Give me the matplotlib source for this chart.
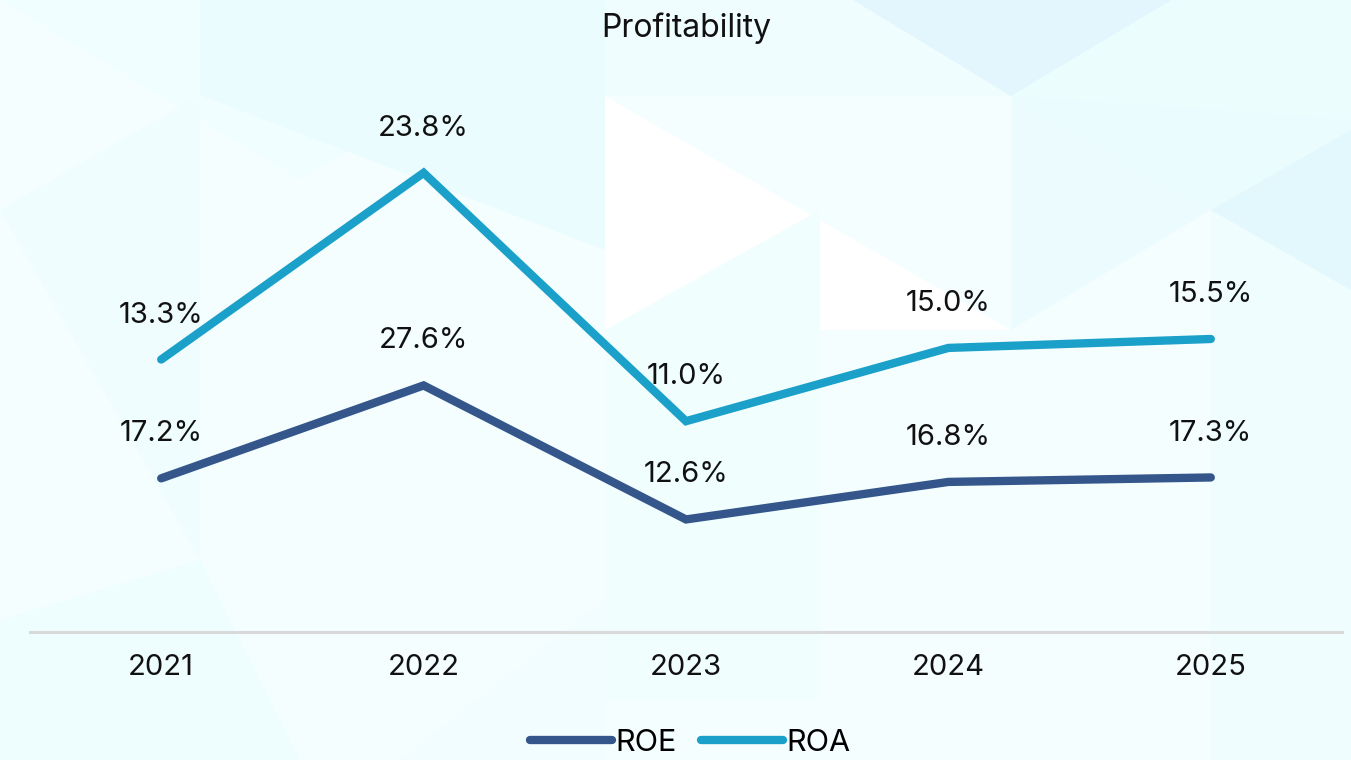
import matplotlib.pyplot as plt
from matplotlib.patches import Polygon
import numpy as np

plt.rcParams['font.family'] = ['Inter', 'DejaVu Sans']

years = ['2021', '2022', '2023', '2024', '2025']
roe = [17.2, 27.6, 12.6, 16.8, 17.3]
roa = [13.3, 23.8, 11.0, 15.0, 15.5]

roe_color = '#34568b'
roa_color = '#1ba1c9'

W, H = 1351, 760
fig = plt.figure(figsize=(W / 100, H / 100), dpi=100)
fig.patch.set_facecolor('#f4feff')

# faint triangle pattern in the background, pixel coords (y down)
bg = fig.add_axes([0, 0, 1, 1], zorder=0)
bg.set_xlim(0, W)
bg.set_ylim(H, 0)
bg.axis('off')
tris = [
    ([(0, 0), (600, 0), (300, 180)], '#f1feff'),
    ([(200, 0), (605, 0), (605, 250), (200, 95)], '#ebfcfe'),
    ([(605, 0), (853, 0), (1011, 96), (605, 96)], '#f0fdfe'),
    ([(853, 0), (1172, 0), (1011, 96)], '#e3f5fd'),
    ([(1172, 0), (1351, 0), (1351, 120), (1011, 96)], '#ecfdfe'),
    ([(1011, 96), (1351, 120), (1351, 300), (1211, 210)], '#eafcfe'),
    ([(1011, 96), (1211, 210), (1011, 330)], '#ecfcfe'),
    ([(1211, 210), (1351, 130), (1351, 300)], '#e3f8fd'),
    ([(0, 210), (200, 95), (200, 560)], '#effdfe'),
    ([(605, 96), (1011, 330), (605, 330)], '#ffffff'),
    ([(605, 330), (820, 210), (820, 700), (605, 700)], '#f1fefe'),
    ([(1211, 210), (1351, 290), (1351, 760), (1211, 760)], '#effdfe'),
    ([(0, 620), (200, 560), (300, 760), (0, 760)], '#eefdfe'),
    ([(400, 760), (605, 600), (605, 760)], '#f1fdfe'),
]
for pts, c in tris:
    bg.add_patch(Polygon(pts, closed=True, facecolor=c, edgecolor='none'))

ax = fig.add_axes([30 / W, 1 - 632 / H, (1342 - 30) / W, 536 / H], zorder=2)
ax.set_facecolor('none')

x = np.arange(len(years))
roe_arr = np.array(roe)
roa_stack = roe_arr + np.array(roa)

ax.plot(x, roe_arr, color=roe_color, linewidth=6, solid_capstyle='round',
        solid_joinstyle='miter', label='ROE', zorder=3)
ax.plot(x, roa_stack, color=roa_color, linewidth=6, solid_capstyle='round',
        solid_joinstyle='miter', label='ROA', zorder=3)

for i in range(len(years)):
    ax.annotate(f'{roe[i]:.1f}%', (x[i], roe_arr[i]), xytext=(0, 32),
                textcoords='offset points', ha='center', va='center',
                fontsize=21, color='#111111')
    ax.annotate(f'{roa[i]:.1f}%', (x[i], roa_stack[i]), xytext=(0, 32),
                textcoords='offset points', ha='center', va='center',
                fontsize=21, color='#111111')

ax.set_xlim(-0.5, len(years) - 0.5)
ax.set_ylim(0, 60)
ax.set_xticks(x)
ax.set_xticklabels(years, fontsize=21, color='#111111')
ax.tick_params(axis='x', length=0, pad=16)
ax.set_yticks([])
for s in ['top', 'right', 'left']:
    ax.spines[s].set_visible(False)
ax.spines['bottom'].set_color('#d9d9d9')
ax.spines['bottom'].set_linewidth(2.2)

fig.text(686 / W, 1 - 28 / H, 'Profitability', ha='center', va='center',
         fontsize=23, color='#111111')

fig.legend(loc='center', bbox_to_anchor=(690 / W, 1 - 743 / H), ncol=2,
           frameon=False, fontsize=22, handlelength=2.7, handletextpad=0.1,
           columnspacing=0.8)

fig.savefig('out.png', dpi=100, facecolor=fig.get_facecolor())
